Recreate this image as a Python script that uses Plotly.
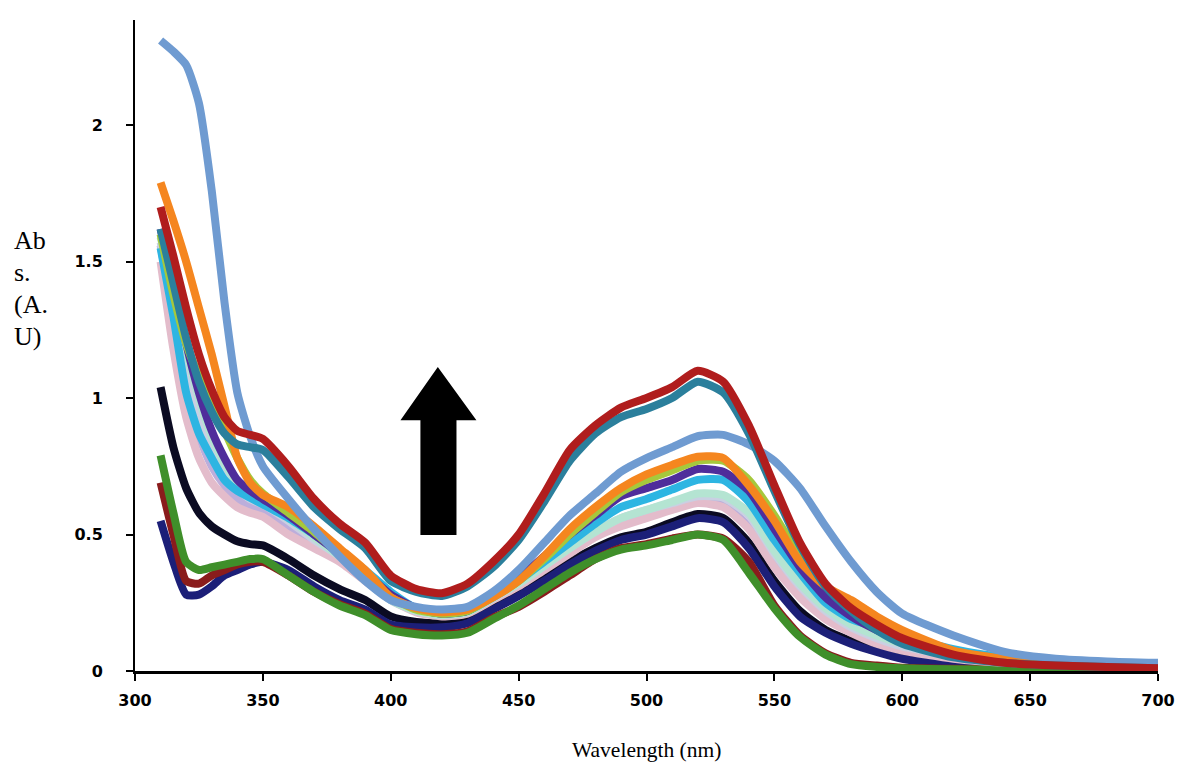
import plotly.graph_objects as go

wavelength = [310, 315, 320, 325, 330, 335, 340, 345, 350, 360, 370, 380, 390, 400, 410, 420, 430, 440, 450,
              460, 470, 480, 490, 500, 510, 520, 530, 540, 550, 560, 570, 580, 590, 600, 620, 640, 660, 680, 700]

black = [1.04, 0.82, 0.67, 0.58, 0.53, 0.50, 0.475, 0.465, 0.46, 0.41, 0.35, 0.30, 0.26, 0.20, 0.18, 0.175, 0.19, 0.24, 0.29,
         0.34, 0.40, 0.45, 0.49, 0.51, 0.545, 0.575, 0.56, 0.47, 0.33, 0.22, 0.15, 0.11, 0.08, 0.05, 0.025, 0.015, 0.01, 0.01, 0.01]
navy_low = [0.55, 0.40, 0.28, 0.28, 0.31, 0.35, 0.37, 0.39, 0.40, 0.37, 0.31, 0.26, 0.225, 0.17, 0.16, 0.16, 0.175, 0.225, 0.275,
            0.33, 0.39, 0.44, 0.48, 0.50, 0.53, 0.56, 0.545, 0.45, 0.31, 0.20, 0.14, 0.10, 0.07, 0.045, 0.02, 0.012, 0.01, 0.008, 0.008]
darkred_low = [0.69, 0.50, 0.33, 0.32, 0.35, 0.37, 0.39, 0.40, 0.40, 0.35, 0.29, 0.245, 0.21, 0.155, 0.14, 0.135, 0.145, 0.195, 0.235,
               0.29, 0.35, 0.41, 0.45, 0.465, 0.485, 0.50, 0.485, 0.40, 0.24, 0.13, 0.065, 0.03, 0.02, 0.012, 0.008, 0.006, 0.005, 0.005, 0.005]
green = [0.79, 0.58, 0.40, 0.37, 0.38, 0.39, 0.40, 0.41, 0.41, 0.35, 0.29, 0.24, 0.205, 0.15, 0.135, 0.13, 0.14, 0.19, 0.24,
         0.30, 0.36, 0.41, 0.445, 0.46, 0.48, 0.50, 0.48, 0.36, 0.23, 0.125, 0.06, 0.025, 0.015, 0.01, 0.006, 0.005, 0.005, 0.005, 0.005]
lavender = [1.56, 1.30, 1.05, 0.86, 0.75, 0.68, 0.63, 0.60, 0.585, 0.52, 0.46, 0.41, 0.34, 0.265, 0.22, 0.205, 0.215, 0.265, 0.32,
            0.38, 0.44, 0.50, 0.54, 0.57, 0.60, 0.625, 0.61, 0.53, 0.40, 0.28, 0.20, 0.15, 0.11, 0.08, 0.05, 0.035, 0.03, 0.025, 0.025]
pink = [1.50, 1.18, 0.93, 0.78, 0.69, 0.64, 0.60, 0.58, 0.565, 0.50, 0.45, 0.40, 0.33, 0.26, 0.215, 0.20, 0.21, 0.26, 0.31,
        0.37, 0.43, 0.49, 0.53, 0.56, 0.59, 0.615, 0.60, 0.52, 0.38, 0.27, 0.19, 0.14, 0.10, 0.075, 0.045, 0.03, 0.025, 0.02, 0.02]
greyblue = [1.57, 1.35, 1.12, 0.95, 0.82, 0.73, 0.67, 0.63, 0.61, 0.55, 0.48, 0.42, 0.34, 0.26, 0.22, 0.205, 0.215, 0.265, 0.32,
            0.385, 0.45, 0.51, 0.56, 0.59, 0.615, 0.64, 0.635, 0.57, 0.43, 0.31, 0.22, 0.16, 0.12, 0.09, 0.055, 0.04, 0.03, 0.025, 0.02]
mint = [1.59, 1.40, 1.18, 1.00, 0.86, 0.76, 0.69, 0.65, 0.62, 0.56, 0.49, 0.42, 0.34, 0.26, 0.22, 0.205, 0.215, 0.27, 0.32,
        0.385, 0.45, 0.51, 0.56, 0.59, 0.62, 0.65, 0.645, 0.58, 0.44, 0.32, 0.23, 0.17, 0.13, 0.10, 0.06, 0.04, 0.03, 0.025, 0.02]
cyan = [1.55, 1.30, 1.02, 0.87, 0.78, 0.70, 0.66, 0.635, 0.61, 0.56, 0.50, 0.44, 0.37, 0.29, 0.23, 0.21, 0.22, 0.27, 0.33,
        0.40, 0.47, 0.54, 0.60, 0.63, 0.665, 0.70, 0.70, 0.62, 0.48, 0.36, 0.25, 0.19, 0.16, 0.13, 0.08, 0.05, 0.035, 0.03, 0.025]
purple = [1.62, 1.42, 1.20, 1.02, 0.88, 0.78, 0.70, 0.66, 0.63, 0.57, 0.50, 0.43, 0.36, 0.28, 0.23, 0.21, 0.22, 0.28, 0.34,
          0.42, 0.50, 0.57, 0.64, 0.67, 0.70, 0.74, 0.73, 0.66, 0.52, 0.38, 0.27, 0.20, 0.15, 0.11, 0.06, 0.04, 0.03, 0.02, 0.02]
yellowgreen = [1.60, 1.38, 1.20, 1.08, 0.98, 0.88, 0.78, 0.70, 0.65, 0.58, 0.51, 0.43, 0.35, 0.27, 0.225, 0.21, 0.22, 0.27, 0.33,
               0.41, 0.50, 0.58, 0.655, 0.70, 0.735, 0.77, 0.77, 0.70, 0.57, 0.42, 0.31, 0.24, 0.18, 0.13, 0.065, 0.035, 0.025, 0.02, 0.015]
orange = [1.79, 1.65, 1.50, 1.33, 1.16, 0.97, 0.78, 0.69, 0.645, 0.60, 0.53, 0.45, 0.37, 0.27, 0.23, 0.215, 0.225, 0.27, 0.33,
          0.42, 0.52, 0.60, 0.67, 0.72, 0.755, 0.785, 0.78, 0.68, 0.55, 0.40, 0.31, 0.26, 0.20, 0.15, 0.075, 0.045, 0.03, 0.02, 0.015]
steelblue = [2.31, 2.27, 2.22, 2.08, 1.76, 1.35, 1.02, 0.86, 0.75, 0.63, 0.52, 0.42, 0.33, 0.26, 0.235, 0.225, 0.235, 0.29, 0.37,
             0.47, 0.57, 0.65, 0.73, 0.78, 0.82, 0.86, 0.865, 0.83, 0.77, 0.67, 0.53, 0.40, 0.29, 0.21, 0.13, 0.07, 0.045, 0.035, 0.03]
teal = [1.62, 1.42, 1.22, 1.06, 0.95, 0.87, 0.83, 0.82, 0.81, 0.71, 0.60, 0.52, 0.45, 0.33, 0.29, 0.275, 0.31, 0.38, 0.48,
        0.62, 0.77, 0.87, 0.93, 0.96, 1.00, 1.06, 1.02, 0.87, 0.66, 0.46, 0.31, 0.22, 0.15, 0.10, 0.05, 0.03, 0.02, 0.015, 0.01]
darkred = [1.70, 1.52, 1.33, 1.16, 1.03, 0.93, 0.88, 0.865, 0.85, 0.75, 0.63, 0.54, 0.47, 0.35, 0.30, 0.285, 0.32, 0.40, 0.50,
           0.65, 0.81, 0.90, 0.965, 1.00, 1.04, 1.10, 1.06, 0.90, 0.68, 0.47, 0.32, 0.23, 0.17, 0.12, 0.06, 0.03, 0.02, 0.015, 0.01]

series = [
    ("black", black, "#0b0b22"),
    ("navy", navy_low, "#1c1f78"),
    ("darkred_low", darkred_low, "#8a1c1c"),
    ("green", green, "#3f8f2a"),
    ("lavender", lavender, "#bcaedb"),
    ("pink", pink, "#e3bccb"),
    ("greyblue", greyblue, "#c9d0e2"),
    ("mint", mint, "#b4e4d2"),
    ("cyan", cyan, "#2db5e2"),
    ("purple", purple, "#4f2d9b"),
    ("yellowgreen", yellowgreen, "#a6c83c"),
    ("orange", orange, "#f5861f"),
    ("steelblue", steelblue, "#6f9bd1"),
    ("teal", teal, "#2b7f9c"),
    ("darkred", darkred, "#b01d1d"),
]

fig = go.Figure()
for name, vals, col in series:
    fig.add_trace(go.Scatter(x=wavelength, y=vals, mode="lines", name=name,
                             line=dict(color=col, width=8, shape="spline", smoothing=0.6),
                             showlegend=False, hoverinfo="skip"))

# block arrow (data coordinates)
arrow_path = ("M 418.4 1.114 L 433.5 0.919 L 425.7 0.919 L 425.7 0.498 "
              "L 411.6 0.498 L 411.6 0.919 L 403.8 0.919 Z")
fig.add_shape(type="path", path=arrow_path, xref="x", yref="y",
              fillcolor="black", line=dict(color="black", width=0))

tickfont = dict(family="DejaVu Sans", size=16, color="black", weight="bold")
fig.update_xaxes(range=[300, 700], tickvals=[300, 350, 400, 450, 500, 550, 600, 650, 700],
                 showline=True, linecolor="black", linewidth=3, ticks="outside", ticklen=7,
                 tickwidth=2, tickcolor="black", tickfont=tickfont, showgrid=False, zeroline=False,
                 ticklabelstandoff=6, automargin=False)
fig.update_yaxes(range=[0, 2.385], tickvals=[0, 0.5, 1, 1.5, 2], ticktext=["0", "0.5", "1", "1.5", "2"],
                 showline=True, linecolor="black", linewidth=2, ticks="outside", ticklen=7,
                 tickwidth=2, tickcolor="black", tickfont=tickfont, showgrid=False, zeroline=False,
                 ticklabelstandoff=20, automargin=False)

# page body has an 8px margin: positions below are relative to the plot area
serif_y = dict(family="Liberation Serif", size=26, color="black")
serif_x = dict(family="Liberation Serif", size=21.5, color="black")
ylines = ["Ab", "s.", "(A.", "U)"]
ypos = [240, 272, 304, 336]
for txt, py in zip(ylines, ypos):
    fig.add_annotation(text=txt, xref="paper", yref="paper", x=0, y=(671 - py) / 651,
                       xanchor="left", yanchor="middle", xshift=-123, showarrow=False, font=serif_y)
fig.add_annotation(text="Wavelength (nm)", xref="paper", yref="paper", x=0.5, y=(671 - 750) / 651,
                   xanchor="center", yanchor="middle", showarrow=False, font=serif_x)

fig.update_layout(width=1167, height=761, plot_bgcolor="white", paper_bgcolor="white",
                  margin=dict(l=127, r=17, t=12, b=98))
fig.write_html("out.html")
